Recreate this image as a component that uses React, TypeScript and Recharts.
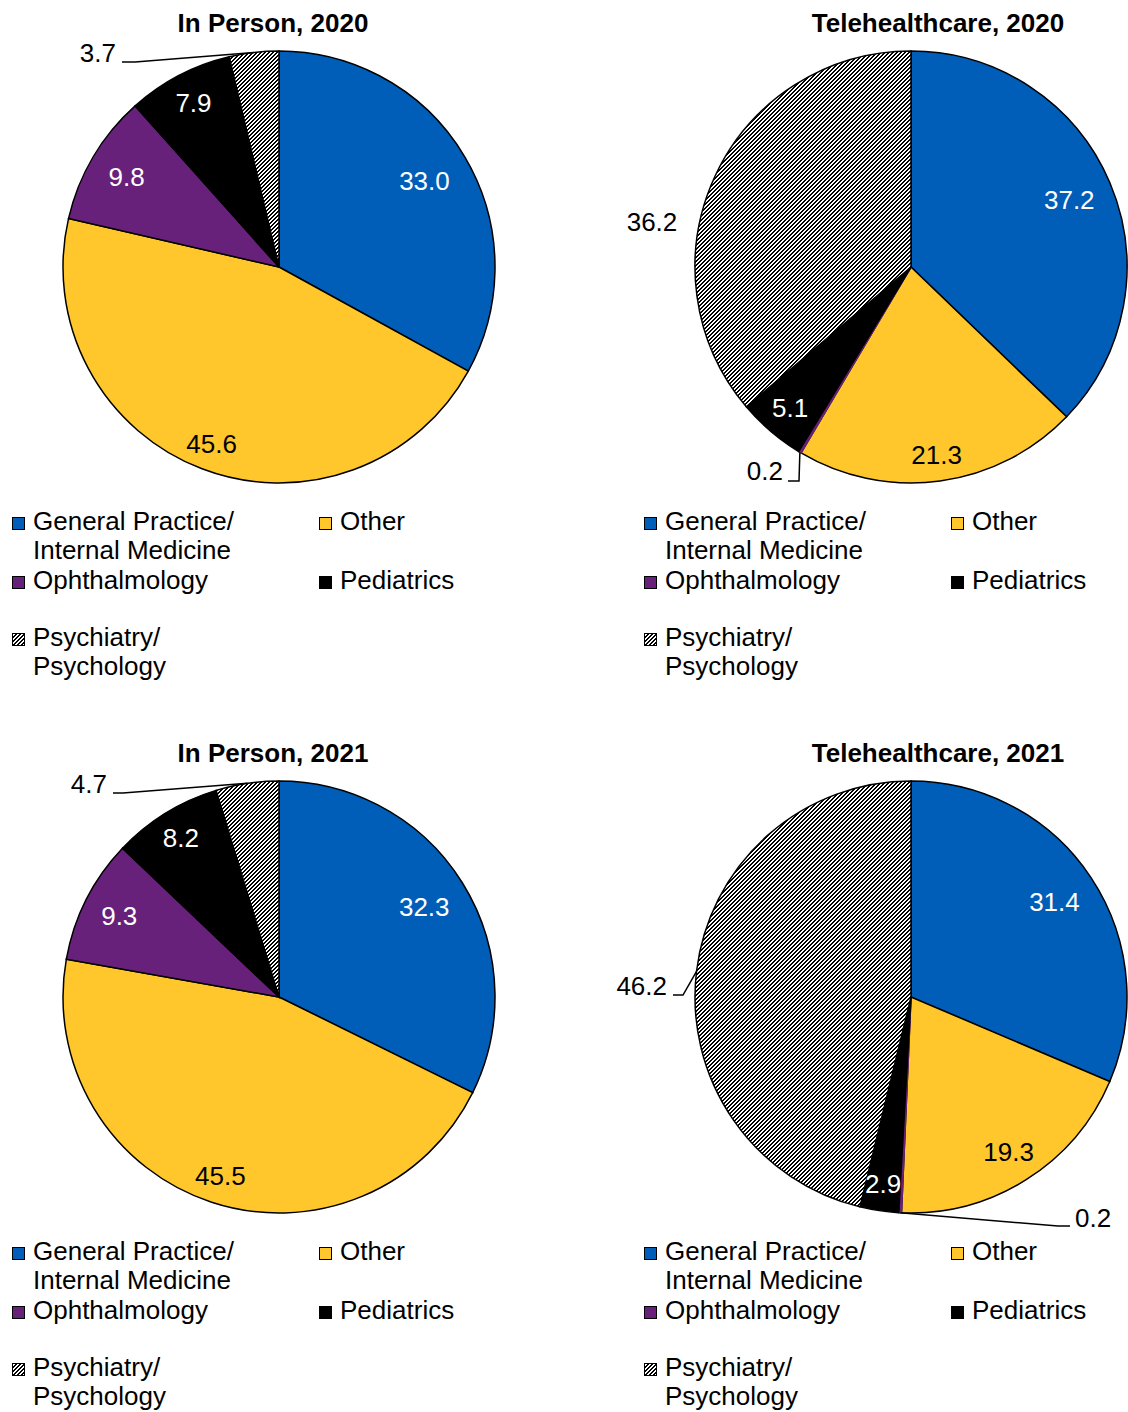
import React from 'react';
import { PieChart, Pie, Cell } from 'recharts';

// categories, in clockwise order from 12 o'clock
const CATEGORIES = [
  'General Practice/\nInternal Medicine',
  'Other',
  'Ophthalmology',
  'Pediatrics',
  'Psychiatry/\nPsychology',
];

const TITLES = ['In Person, 2020', 'Telehealthcare, 2020', 'In Person, 2021', 'Telehealthcare, 2021'];

const IN_PERSON_2020 = [33.0, 45.6, 9.8, 7.9, 3.7];
const TELEHEALTH_2020 = [37.2, 21.3, 0.2, 5.1, 36.2];
const IN_PERSON_2021 = [32.3, 45.5, 9.3, 8.2, 4.7];
const TELEHEALTH_2021 = [31.4, 19.3, 0.2, 2.9, 46.2];

const SERIES = [IN_PERSON_2020, TELEHEALTH_2020, IN_PERSON_2021, TELEHEALTH_2021];

const COLORS = ['#005EB8', '#FFC72C', '#68217A', '#000000', null]; // null -> hatch
const LABEL_COLORS = ['#fff', '#000', '#fff', '#fff', '#000'];

const FONT = '"Liberation Sans", Arial, Helvetica, sans-serif';
const CX = 279;
const CY = 267;
const R = 216;
const RAD = Math.PI / 180;

type Callout = { x: number; y: number; anchor: 'start' | 'middle' | 'end'; path?: [number, number][] };
type PanelLayout = {
  left: number;
  top: number;
  titleX: number;
  labelR: number[];
  callouts: Record<number, Callout>;
};

// where the chart sits on the page and how its labels are placed
const PANELS: PanelLayout[] = [
  {
    left: 0, top: 0, titleX: 273,
    labelR: [169, 189, 177, 185, 0],
    callouts: { 4: { x: 116, y: 62, anchor: 'end', path: [[135, 62], [122, 62]] } },
  },
  {
    left: 632, top: 0, titleX: 306,
    labelR: [172, 190, 0, 186, 0],
    callouts: {
      2: { x: 151, y: 480, anchor: 'end', path: [[167, 481], [156, 481]] },
      4: { x: 20, y: 231, anchor: 'middle' },
    },
  },
  {
    left: 0, top: 730, titleX: 273,
    labelR: [171, 188, 179, 187, 0],
    callouts: { 4: { x: 107, y: 63, anchor: 'end', path: [[123, 63], [113, 63]] } },
  },
  {
    left: 632, top: 730, titleX: 306,
    labelR: [172, 183, 0, 189, 0],
    callouts: {
      2: { x: 443, y: 497, anchor: 'start', path: [[426, 496], [438, 496]] },
      4: { x: 35, y: 265, anchor: 'end', path: [[51, 265], [41, 265]] },
    },
  },
];

// legend item slots: [column x, row top]
const LEGEND_SLOTS: [number, number][] = [
  [12, 507],
  [319, 507],
  [12, 566],
  [319, 566],
  [12, 623],
];

// 4x4 pixel tile for the "/" hatch: black where (x + y) % 4 is 0 or 1
const HATCH_PIXELS: [number, number][] = [];
for (let y = 0; y < 4; y++) {
  for (let x = 0; x < 4; x++) {
    if ((x + y) % 4 === 0 || (x + y) % 4 === 1) HATCH_PIXELS.push([x, y]);
  }
}

const fillFor = (i: number, k: number) => COLORS[i] ?? `url(#hatch-${k})`;

const makeLabel = (k: number) => (props: any) => {
  const { midAngle, index, value } = props;
  const layout = PANELS[k];
  const text = Number(value).toFixed(1);
  const callout = layout.callouts[index];
  if (callout) {
    const ax = CX + R * Math.cos(-midAngle * RAD);
    const ay = CY + R * Math.sin(-midAngle * RAD);
    const pts = callout.path ? [[ax, ay], ...callout.path] : null;
    return (
      <g>
        {pts && (
          <polyline
            points={pts.map((p) => p.join(',')).join(' ')}
            fill="none"
            stroke="#000"
            strokeWidth={1.5}
          />
        )}
        <text x={callout.x} y={callout.y} textAnchor={callout.anchor} fontSize={26} fontFamily={FONT} fill="#000">
          {text}
        </text>
      </g>
    );
  }
  const r = layout.labelR[index];
  const x = CX + r * Math.cos(-midAngle * RAD);
  const y = CY + r * Math.sin(-midAngle * RAD);
  return (
    <text x={x} y={y + 9} textAnchor="middle" fontSize={26} fontFamily={FONT} fill={LABEL_COLORS[index]}>
      {text}
    </text>
  );
};

const LegendBlock: React.FC<{ k: number }> = ({ k }) => (
  <>
    {CATEGORIES.map((name, i) => {
      const [x, y] = LEGEND_SLOTS[i];
      const color = COLORS[i];
      return (
        <div
          key={name}
          style={{ position: 'absolute', left: x, top: y, display: 'flex', alignItems: 'flex-start' }}
        >
          {color ? (
            <div
              style={{
                width: 11,
                height: 11,
                marginTop: 10,
                background: color,
                border: '1px solid #000',
              }}
            />
          ) : (
            <svg width={13} height={13} style={{ marginTop: 10, display: 'block' }}>
              <rect x={0.5} y={0.5} width={12} height={12} fill={`url(#hatch-${k})`} stroke="#000" />
            </svg>
          )}
          <div
            style={{
              marginLeft: 8,
              fontSize: 26,
              lineHeight: '29px',
              fontFamily: FONT,
              color: '#000',
              whiteSpace: 'pre-line',
            }}
          >
            {name}
          </div>
        </div>
      );
    })}
  </>
);

const Panel: React.FC<{ k: number }> = ({ k }) => {
  const layout = PANELS[k];
  const data = SERIES[k].map((value, i) => ({ name: CATEGORIES[i], value }));
  return (
    <div style={{ position: 'absolute', left: layout.left, top: layout.top, width: 500, height: 730 }}>
      <div
        style={{
          position: 'absolute',
          left: layout.titleX - 200,
          top: 8,
          width: 400,
          textAlign: 'center',
          fontSize: 26,
          lineHeight: '30px',
          fontWeight: 'bold',
          fontFamily: FONT,
          color: '#000',
        }}
      >
        {TITLES[k]}
      </div>
      <div style={{ position: 'absolute', left: 0, top: 0 }}>
        <PieChart width={500} height={520} margin={{ top: 0, right: 0, bottom: 0, left: 0 }}>
          <defs>
            <pattern id={`hatch-${k}`} patternUnits="userSpaceOnUse" width={4} height={4}>
              <rect width={4} height={4} fill="#fff" />
              {HATCH_PIXELS.map(([x, y]) => (
                <rect key={`${x}-${y}`} x={x} y={y} width={1} height={1} fill="#000" shapeRendering="crispEdges" />
              ))}
            </pattern>
          </defs>
          <Pie
            data={data}
            dataKey="value"
            nameKey="name"
            cx={CX}
            cy={CY}
            outerRadius={R}
            startAngle={90}
            endAngle={-270}
            label={makeLabel(k)}
            labelLine={false}
            isAnimationActive={false}
          >
            {data.map((d, i) => (
              <Cell
                key={d.name}
                fill={fillFor(i, k)}
                stroke={d.value < 1 ? (COLORS[i] as string) : '#000'}
                strokeWidth={1.5}
              />
            ))}
          </Pie>
        </PieChart>
      </div>
      <LegendBlock k={k} />
    </div>
  );
};

export default function App() {
  return (
    <div
      style={{
        position: 'absolute',
        left: 0,
        top: 0,
        width: 1128,
        height: 1412,
        background: '#fff',
        overflow: 'hidden',
      }}
    >
      <style>{'.recharts-surface, .recharts-wrapper { overflow: visible !important; }'}</style>
      {SERIES.map((_, k) => (
        <Panel key={k} k={k} />
      ))}
    </div>
  );
}
